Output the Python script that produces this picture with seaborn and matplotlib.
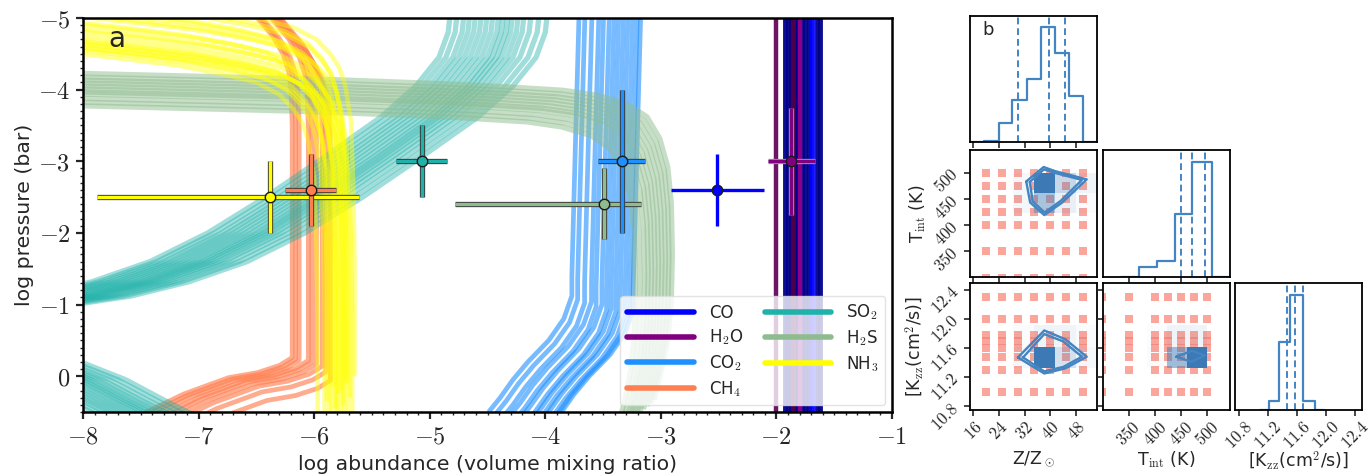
import numpy as np
import pandas as pd
import matplotlib
matplotlib.use("Agg")
import matplotlib.pyplot as plt
import matplotlib.patheffects as pe
from matplotlib.lines import Line2D
from matplotlib.colors import LinearSegmentedColormap
from matplotlib.ticker import FixedLocator, MultipleLocator, FuncFormatter, NullFormatter, NullLocator
import seaborn as sns

sns.set_theme(style="ticks")
plt.rcParams["font.family"] = ["DejaVu Sans"]
plt.rcParams["mathtext.fontset"] = "cm"

# ---------------- panel a: abundance profiles ----------------
species = ["CO", "H2O", "CO2", "CH4", "SO2", "H2S", "NH3"]
species_labels = ["CO", "H$_2$O", "CO$_2$", "CH$_4$", "SO$_2$", "H$_2$S", "NH$_3$"]

# base profile of each species (log abundance vs log pressure) and the
# offsets of the individual retrieved models around it
co_x = [-1.78, -1.78]
co_p = [-5.3, 0.7]
co_dx = [-0.15, -0.12, -0.09, -0.06, -0.03, 0.0, 0.03, 0.06, 0.09, 0.13, 0.16]
co_dp = [0.0] * 11

h2o_x = [-1.9, -1.9]
h2o_p = [-5.3, 0.7]
h2o_dx = [-0.1, 0.04, 0.1]
h2o_dp = [0.0, 0.0, 0.0]

co2_x = [-3.38, -3.42, -3.45, -3.45, -3.52, -3.65, -3.83, -3.96, -4.07, -4.17]
co2_p = [-5.3, -3.0, -1.2, -0.92, -0.6, -0.3, 0.0, 0.25, 0.5, 0.7]
co2_dx = [-0.32, -0.27, -0.21, -0.15, -0.11, -0.06, -0.02, 0.02, 0.06, 0.1, 0.14, 0.18, 0.21]
co2_dp = [-0.2, -0.15, -0.1, -0.12, -0.05, -0.08, 0.0, -0.02, 0.02, 0.0, 0.05, 0.02, 0.0]

ch4_x = [-6.5, -6.3, -6.17, -6.08, -6.03, -6.01, -6.0, -6.0, -6.0, -6.11, -6.3, -6.55, -6.94, -7.26, -7.5]
ch4_p = [-5.4, -5.0, -4.75, -4.5, -4.25, -4.0, -3.5, -1.0, -0.26, -0.15, -0.05, 0.02, 0.25, 0.5, 0.7]
ch4_dx = [-0.19, -0.16, -0.13, -0.05, -0.02, 0.02, 0.07, 0.1, 0.14]
ch4_dp = [0.0, 0.02, 0.04, 0.04, 0.06, 0.09, 0.12, 0.2, 0.32]

so2_x = [-7.45, -7.7, -8.05, -8.6, -9.0, -8.7, -8.0, -7.5, -7.0, -6.5, -6.0, -5.5, -5.0, -4.7, -4.5, -4.42, -4.4]
so2_p = [0.55, 0.35, 0.05, -0.3, -0.65, -0.95, -1.12, -1.32, -1.6, -2.0, -2.5, -3.05, -3.62, -4.05, -4.45, -4.8, -5.1]
so2_dx = [-0.42, -0.36, -0.3, -0.25, -0.2, -0.15, -0.1, -0.05, 0.0, 0.04, 0.08, 0.12, 0.17, 0.22, 0.28, 0.35, 0.42]
so2_dp = [0.0] * 17

h2s_x = [-10.0, -8.0, -6.0, -5.0, -4.5, -4.0, -3.7, -3.45, -3.28, -3.17, -3.1, -3.07, -3.06, -3.07, -3.1, -3.15, -3.22]
h2s_p = [-4.08, -4.0, -3.92, -3.86, -3.82, -3.77, -3.7, -3.58, -3.4, -3.1, -2.7, -2.2, -1.5, -0.8, -0.3, 0.1, 0.55]
h2s_dx = [-0.16, -0.12, -0.08, -0.05, -0.02, 0.01, 0.04, 0.07, 0.1, 0.13, 0.16]
h2s_dp = [0.22, 0.17, 0.12, 0.06, 0.03, -0.01, -0.05, -0.09, -0.13, -0.17, -0.22]

nh3_x = [-9.0, -8.0, -7.5, -7.0, -6.6, -6.3, -6.1, -5.98, -5.9, -5.85, -5.8, -5.78, -5.77, -5.77]
nh3_p = [-4.9, -4.75, -4.66, -4.56, -4.44, -4.32, -4.15, -3.95, -3.75, -3.5, -3.0, -2.0, -1.0, 0.55]
nh3_dx = [-0.2, -0.14, -0.1, -0.07, -0.04, -0.02, 0.0, 0.02, 0.04, 0.06, 0.08, 0.1, 0.12, -0.05,
          0.03, -0.12, 0.01, -0.03, 0.05, -0.08]
nh3_dp = [0.22, 0.15, 0.1, -0.4, 0.05, -0.3, 0.0, -0.15, -0.5, -0.05, -0.25, 0.18, -0.55, -0.1,
          0.12, -0.2, -0.35, 0.07, -0.45, 0.19]

# retrieved abundances with uncertainties
eb_species = ["NH3", "CH4", "SO2", "H2S", "CO2", "CO", "H2O"]
eb_abund = [-6.38, -6.03, -5.07, -3.49, -3.34, -2.51, -1.87]
eb_logp = [-2.5, -2.6, -3.0, -2.41, -3.0, -2.6, -3.0]
eb_abund_lo = [1.5, 0.22, 0.22, 1.29, 0.2, 0.4, 0.2]
eb_abund_hi = [0.77, 0.22, 0.22, 0.32, 0.2, 0.4, 0.2]
eb_logp_err = [0.5, 0.5, 0.5, 0.5, 1.0, 0.5, 0.75]

# ---------------- panel b: posterior corner plot ----------------
z_edges = [19.2, 23.9, 28.2, 32.7, 37.1, 41.5, 45.8, 50.3]
z_counts = [1, 13, 29, 44, 80, 62, 32]
z_quantiles = [29.8, 39.6, 44.6]
t_edges = [369, 403, 439, 471, 508]
t_counts = [7, 11, 44, 80]
t_quantiles = [449, 471, 496]
k_edges = [11.22, 11.35, 11.50, 11.68, 11.84]
k_counts = [6, 47, 80, 6]
k_quantiles = [11.46, 11.57, 11.68]

z2_edges = [15.5, 22.0, 28.5, 35.0, 41.5, 48.0, 54.5]
t2_edges = [307.5, 346.0, 384.5, 423.0, 461.5, 500.0, 538.5]
k2_edges = [10.75, 11.04, 11.33, 11.62, 11.91, 12.2, 12.49]
zt_density = [
    [0, 0, 0, 0, 0, 0],
    [0, 0, 0, 0, 0, 0],
    [0, 0, 0, 0, 0, 0],
    [0, 0, 0.06, 0.45, 0.12, 0.03],
    [0, 0, 0.05, 1.0, 0.3, 0.08],
    [0, 0, 0, 0, 0, 0],
]
zk_density = [
    [0, 0, 0, 0, 0, 0],
    [0, 0, 0, 0, 0, 0],
    [0, 0, 0.06, 1.0, 0.22, 0.05],
    [0, 0, 0.03, 0.08, 0.08, 0.03],
    [0, 0, 0, 0, 0, 0],
    [0, 0, 0, 0, 0, 0],
]
tk_density = [
    [0, 0, 0, 0, 0, 0],
    [0, 0, 0, 0, 0, 0],
    [0, 0, 0.03, 0.5, 1.0, 0],
    [0, 0, 0.02, 0.08, 0.08, 0],
    [0, 0, 0, 0, 0, 0],
    [0, 0, 0, 0, 0, 0],
]

zt_outer_z = [32.5, 37.9, 41.3, 51.3, 43.7, 38.1, 33.7, 32.5]
zt_outer_t = [483, 510.6, 503, 487, 443, 419, 443, 483]
zt_inner_z = [33.6, 38.0, 41.0, 49.8, 43.2, 38.2, 34.5, 33.6]
zt_inner_t = [482, 506, 500, 486, 446, 424, 445, 482]
zk_outer_z = [29.9, 38.1, 44.6, 51.3, 44.6, 38.1, 29.9]
zk_outer_k = [11.47, 11.84, 11.72, 11.48, 11.32, 11.25, 11.47]
zk_inner_z = [31.5, 38.1, 44.0, 49.8, 44.0, 38.1, 31.5]
zk_inner_k = [11.47, 11.79, 11.69, 11.48, 11.34, 11.28, 11.47]
tk_contour_t = [440.6, 470, 495, 470, 440.6]
tk_contour_k = [11.48, 11.56, 11.5, 11.41, 11.48]

grid_z = [20, 25, 30, 35, 40, 45, 50]
grid_t = [300, 350, 400, 425, 450, 475, 500]
grid_k = [11.0, 11.3, 11.48, 11.6, 11.7, 11.78, 12.0, 12.3]

z_ticks = [16, 24, 32, 40, 48]
t_ticks = [350, 400, 450, 500]
k_ticks = [10.8, 11.2, 11.6, 12.0, 12.4]

# ---------------- styles ----------------
colors = {"CO": "#0000FF", "H2O": "#800080", "CO2": "#1E90FF", "CH4": "#FF7F50",
          "SO2": "#20B2AA", "H2S": "#8FBC8F", "NH3": "#FFFF00"}
line_blue = "#4384c2"

W, H = 1371, 476
fig = plt.figure(figsize=(W / 100, H / 100), dpi=100)


def px_axes(x0, y0, w, h):
    return fig.add_axes([x0 / W, 1 - (y0 + h) / H, w / W, h / H])


def ensemble_frame(path_x, path_p, shift_x, shift_p):
    rows = []
    for m, (dx, dp) in enumerate(zip(shift_x, shift_p)):
        for x, p in zip(path_x, path_p):
            rows.append((m, x + dx, p + dp))
    return pd.DataFrame(rows, columns=["member", "abund", "logp"])


def draw_ensemble(ax, df, color, lw, alpha):
    sns.lineplot(data=df, x="abund", y="logp", units="member", estimator=None,
                 sort=False, color=color, lw=lw, alpha=alpha, ax=ax,
                 legend=False, solid_capstyle="butt")


ax = px_axes(83, 18, 809, 394)

# CO band: mostly dark navy with one bright member
co_df = ensemble_frame(co_x, co_p, co_dx, co_dp)
co_shades = ["#00008b"] * len(co_dx)
co_shades[8] = "#0000ff"
for m, shade in enumerate(co_shades):
    draw_ensemble(ax, co_df[co_df.member == m], shade, 3.5, 0.95)
h2o_df = ensemble_frame(h2o_x, h2o_p, h2o_dx, h2o_dp)
for m, shade in enumerate(["#6e1464", "#4b0049", "#8b008b"]):
    draw_ensemble(ax, h2o_df[h2o_df.member == m], shade, 3.2, 1.0)

draw_ensemble(ax, ensemble_frame(co2_x, co2_p, co2_dx, co2_dp), colors["CO2"], 3.4, 0.6)
draw_ensemble(ax, ensemble_frame(ch4_x, ch4_p, ch4_dx, ch4_dp), colors["CH4"], 3.4, 0.65)
draw_ensemble(ax, ensemble_frame(so2_x, so2_p, so2_dx, so2_dp), colors["SO2"], 3.8, 0.42)
draw_ensemble(ax, ensemble_frame(h2s_x, h2s_p, h2s_dx, h2s_dp), colors["H2S"], 3.8, 0.5)
draw_ensemble(ax, ensemble_frame(nh3_x, nh3_p, nh3_dx, nh3_dp), colors["NH3"], 3.2, 0.45)

for sp, x, p, xlo, xhi, perr in zip(eb_species, eb_abund, eb_logp, eb_abund_lo,
                                     eb_abund_hi, eb_logp_err):
    c = colors[sp]
    eb = ax.errorbar([x], [p], xerr=[[xlo], [xhi]], yerr=[[perr], [perr]], fmt="o",
                     color=c, ecolor=c, elinewidth=2.4, markersize=7.5,
                     markeredgecolor="k", markeredgewidth=1.0, capsize=0, zorder=6)
    if sp != "CO":
        edge = "#9a9a9a" if sp == "H2O" else "#3a3a3a"
        for coll in eb[2]:
            coll.set_path_effects([pe.Stroke(linewidth=3.8, foreground=edge), pe.Normal()])

ax.set_xlim(-8, -1)
ax.set_ylim(0.5, -5)
ax.xaxis.set_major_locator(MultipleLocator(1))
ax.yaxis.set_major_locator(MultipleLocator(1))
ax.xaxis.set_minor_locator(MultipleLocator(0.1))
ax.yaxis.set_minor_locator(MultipleLocator(0.1))
cm_fmt = FuncFormatter(lambda v, pos: f"${v:g}$")
ax.xaxis.set_major_formatter(cm_fmt)
ax.yaxis.set_major_formatter(cm_fmt)
ax.tick_params(which="major", direction="out", length=5, width=1.6, labelsize=17.5, pad=4)
ax.tick_params(which="minor", direction="out", length=2.5, width=1.0)
for s in ax.spines.values():
    s.set_linewidth(1.8)
    s.set_color("black")
ax.set_xlabel("log abundance (volume mixing ratio)", fontsize=14.7, labelpad=5)
ax.set_ylabel("log pressure (bar)", fontsize=14.7, labelpad=3)
ax.text(0.031, 0.926, "a", transform=ax.transAxes, fontsize=20, va="baseline")

handles = [Line2D([0], [0], color=colors[s], lw=4) for s in species]
ax.legend(handles, species_labels, loc="lower right", ncol=2, fontsize=12,
          handlelength=4.0, handletextpad=0.9, columnspacing=1.3, labelspacing=0.35,
          borderaxespad=0.4, framealpha=0.8, edgecolor="#dddddd", fancybox=True)

# ---------------- corner plot ----------------
col_x = [970, 1103, 1235]
row_y = [16, 150, 283]
size = 127
post_cmap = LinearSegmentedColormap.from_list(
    "post", [(0.24, 0.48, 0.71, 0.0), (0.24, 0.48, 0.71, 1.0)])

z_lim = (15.0, 54.5)
t_lim = (301, 543)
k_lim = (10.75, 12.49)


def cm_ticks(axis, ticks, fmt, labels):
    axis.set_major_locator(FixedLocator(ticks))
    if labels:
        axis.set_major_formatter(FuncFormatter(lambda v, pos: ("$" + fmt + "$") % v))
    else:
        axis.set_major_formatter(NullFormatter())


def style_corner(a):
    for s in a.spines.values():
        s.set_linewidth(1.3)
        s.set_color("black")
    a.tick_params(which="major", direction="out", length=4, width=1.2, labelsize=12, pad=1.5)


def diag_hist(a, edges, counts, quants, lim, ticks, fmt, show_labels):
    edges = list(edges)
    w = edges[1] - edges[0]
    ext_edges = [edges[0] - w] + edges + [edges[-1] + w]
    ext_counts = [0] + list(counts) + [0]
    centers = [(ext_edges[i] + ext_edges[i + 1]) / 2 for i in range(len(ext_counts))]
    sns.histplot(x=centers, weights=ext_counts, bins=ext_edges, element="step",
                 fill=False, color=line_blue, lw=1.6, ax=a)
    for q in quants:
        a.axvline(q, color=line_blue, lw=1.4, ls=(0, (3.5, 2)))
    a.set_xlim(*lim)
    a.set_ylim(0, 1.1 * max(counts))
    a.set_ylabel("")
    a.set_xlabel("")
    a.yaxis.set_major_locator(NullLocator())
    cm_ticks(a.xaxis, ticks, fmt, show_labels)
    style_corner(a)


def grid_points(a, gx, gy):
    mx, my = np.meshgrid(gx, gy)
    sns.scatterplot(x=mx.ravel(), y=my.ravel(), marker="s", s=40, color="#fa8072",
                    alpha=0.7, linewidth=0, ax=a, zorder=1)


def density_cells(a, ex, ey, dens):
    a.pcolormesh(ex, ey, np.asarray(dens, float), cmap=post_cmap, vmin=0, vmax=1,
                 zorder=2, shading="flat")


label_size = 12.5

# row 1: Z histogram
a11 = px_axes(col_x[0], row_y[0], size, size - 1)
diag_hist(a11, z_edges, z_counts, z_quantiles, z_lim, z_ticks, "%g", False)
a11.text(0.1, 0.85, "b", transform=a11.transAxes, fontsize=13, va="baseline")

# row 2: Z vs T, T histogram
a21 = px_axes(col_x[0], row_y[1], size, size)
grid_points(a21, grid_z, grid_t)
density_cells(a21, z2_edges, t2_edges, zt_density)
a21.plot(zt_outer_z, zt_outer_t, color=line_blue, lw=1.7, zorder=3)
a21.plot(zt_inner_z, zt_inner_t, color=line_blue, lw=1.7, zorder=3)
a21.set_xlim(*z_lim)
a21.set_ylim(*t_lim)
cm_ticks(a21.xaxis, z_ticks, "%g", False)
cm_ticks(a21.yaxis, t_ticks, "%g", True)
style_corner(a21)
for lab in a21.get_yticklabels():
    lab.set_rotation(45)
a21.set_ylabel(r"T$_{\rm int}$ (K)", fontsize=label_size)
a21.yaxis.set_label_coords(-0.33, 0.5)

a22 = px_axes(col_x[1], row_y[1], size, size)
diag_hist(a22, t_edges, t_counts, t_quantiles, t_lim, t_ticks, "%g", False)

# row 3: Z vs Kzz, T vs Kzz, Kzz histogram
a31 = px_axes(col_x[0], row_y[2], size, size)
grid_points(a31, grid_z, grid_k)
density_cells(a31, z2_edges, k2_edges, zk_density)
a31.plot(zk_outer_z, zk_outer_k, color=line_blue, lw=1.7, zorder=3)
a31.plot(zk_inner_z, zk_inner_k, color=line_blue, lw=1.7, zorder=3)
a31.set_xlim(*z_lim)
a31.set_ylim(*k_lim)
cm_ticks(a31.xaxis, z_ticks, "%g", True)
cm_ticks(a31.yaxis, k_ticks, "%.1f", True)
style_corner(a31)
for lab in a31.get_xticklabels():
    lab.set_rotation(45)
    lab.set_ha("center")
for lab in a31.get_yticklabels():
    lab.set_rotation(45)
a31.set_xlabel(r"Z/Z$_\odot$", fontsize=label_size)
a31.xaxis.set_label_coords(0.5, -0.31)
a31.set_ylabel(r"[K$_{\rm zz}$(cm$^2$/s)]", fontsize=label_size)
a31.yaxis.set_label_coords(-0.34, 0.5)

a32 = px_axes(col_x[1], row_y[2], size, size)
grid_points(a32, grid_t, grid_k)
density_cells(a32, t2_edges, k2_edges, tk_density)
a32.plot(tk_contour_t, tk_contour_k, color=line_blue, lw=1.7, zorder=3)
a32.set_xlim(*t_lim)
a32.set_ylim(*k_lim)
cm_ticks(a32.xaxis, t_ticks, "%g", True)
cm_ticks(a32.yaxis, k_ticks, "%.1f", False)
style_corner(a32)
for lab in a32.get_xticklabels():
    lab.set_rotation(45)
    lab.set_ha("center")
a32.set_xlabel(r"T$_{\rm int}$ (K)", fontsize=label_size)
a32.xaxis.set_label_coords(0.5, -0.31)

a33 = px_axes(col_x[2], row_y[2], size, size)
diag_hist(a33, k_edges, k_counts, k_quantiles, k_lim, k_ticks, "%.1f", True)
for lab in a33.get_xticklabels():
    lab.set_rotation(45)
    lab.set_ha("center")
a33.set_xlabel(r"[K$_{\rm zz}$(cm$^2$/s)]", fontsize=label_size)
a33.xaxis.set_label_coords(0.5, -0.31)

fig.savefig("out.png", dpi=100)
